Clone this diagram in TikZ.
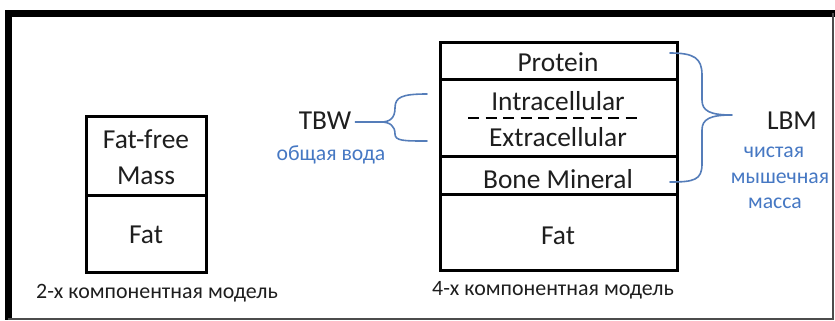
\documentclass[tikz,border=0pt]{standalone}
\usepackage{fontspec}
\setmainfont{Carlito}
\definecolor{bracecol}{RGB}{85,125,185}
\definecolor{ruscol}{RGB}{70,120,195}
\definecolor{inkcol}{RGB}{30,30,30}
\tikzset{
  cell/.style={draw=black, line width=3bp, rectangle, anchor=north west, inner sep=0pt, outer sep=0pt},
  bigtxt/.style={font=\fontsize{27.5}{32}\selectfont, text=inkcol, inner sep=0pt},
  captxt/.style={font=\fontsize{22}{26}\selectfont, text=inkcol, inner sep=0pt},
  rustxt/.style={font=\fontsize{21.8}{26}\selectfont, text=ruscol, inner sep=0pt},
  bracket/.style={draw=bracecol, line width=1.6bp, line cap=round, line join=round},
}
\begin{document}
\begin{tikzpicture}[x=1bp, y=-1bp]
\useasboundingbox (0,0) rectangle (835,320);
% outer frame
\draw[line width=7bp] (5,13.5) -- (835,13.5);
\draw[line width=7bp] (8.5,10) -- (8.5,320);
\draw[line width=1.5bp, black!70] (833,13) -- (833,319) -- (8,319);

% two-component model
\node[cell, minimum width=120bp, minimum height=79bp] (ffm) at (86,116) {};
\node[cell, minimum width=120bp, minimum height=77bp] (fat2) at (86,195) {};
\node[bigtxt] (ffmA) at (146,139) {Fat-free};
\node[bigtxt] (ffmB) at (146,176) {Mass};
\node[bigtxt] (fat2t) at (146,235) {Fat};
\node[captxt] (cap2) at (157,293) {2-х компонентная модель};

% four-component model
\node[cell, minimum width=237bp, minimum height=37bp] (prot) at (440,42) {};
\node[cell, minimum width=237bp, minimum height=77bp] (water) at (440,79) {};
\node[cell, minimum width=237bp, minimum height=38bp] (bone) at (440,156) {};
\node[cell, minimum width=237bp, minimum height=76bp] (fat4) at (440,194) {};
\node[bigtxt] (prott) at (558,62) {Protein};
\node[bigtxt] (intra) at (558,101) {Intracellular};
\node[bigtxt] (extra) at (558,137) {Extracellular};
\node[bigtxt] (bonet) at (558,179) {Bone Mineral};
\node[bigtxt] (fat4t) at (558,236) {Fat};
\coordinate (dashL) at (468,118);
\coordinate (dashR) at (643,118);
\draw[line width=2bp, dash pattern=on 11bp off 6.5bp] (dashL) -- (dashR);
\node[captxt] (cap4) at (553,290) {4-х компонентная модель};

% total body water
\node[bigtxt] (tbw) at (325,121) {TBW};
\node[rustxt] (tbwru) at (331,155) {общая вода};
\coordinate (tbwTip) at (381,122);
\coordinate (tbwTop) at (427,94);
\coordinate (tbwBot) at (427,141);
\draw[bracket] (tbw.east) ++(4,1) -- (tbwTip);
\draw[bracket] (tbwTop) .. controls (402,94) and (395,97) .. (395,108)
  .. controls (395,118) and (390,122) .. (tbwTip)
  .. controls (390,122) and (395,126) .. (395,134)
  .. controls (395,141) and (404,141) .. (tbwBot);

% lean body mass
\node[bigtxt] (lbm) at (792,121) {LBM};
\node[rustxt] (lbm1) at (774,152) {чистая};
\node[rustxt] (lbm2) at (780,178) {мышечная};
\node[rustxt] (lbm3) at (775,203) {масса};
\coordinate (lbmTop) at (670,53);
\coordinate (lbmTip) at (732,115);
\coordinate (lbmBot) at (670,182);
\draw[bracket] (lbmTop) .. controls (694,53) and (702,58) .. (702,75)
  -- (702,100) .. controls (702,111) and (710,115) .. (lbmTip)
  .. controls (710,115) and (702,119) .. (702,130)
  -- (702,164) .. controls (702,180) and (694,182) .. (lbmBot);
\end{tikzpicture}
\end{document}
